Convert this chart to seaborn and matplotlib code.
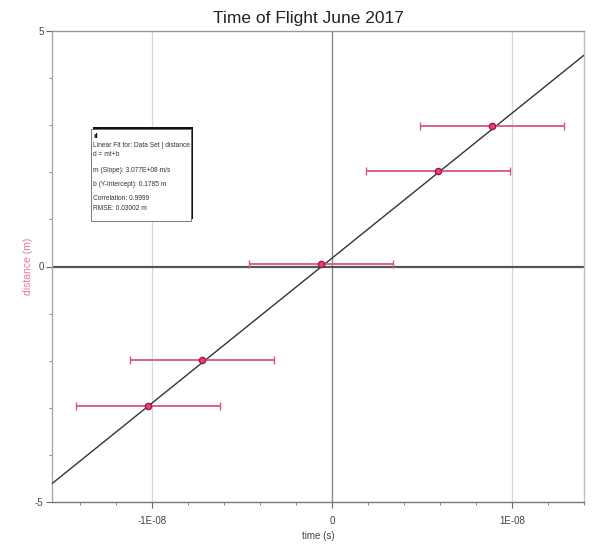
import numpy as np
import pandas as pd
import matplotlib
matplotlib.use("Agg")
import matplotlib.pyplot as plt
import seaborn as sns
from matplotlib.ticker import MultipleLocator, FixedLocator, FixedFormatter
from matplotlib.patches import Rectangle

# ---- data ----
time_s = [-1.022e-8, -0.722e-8, -0.06e-8, 0.589e-8, 0.889e-8]
distance_m = [-2.96, -1.98, 0.05, 2.02, 2.98]
time_err = [0.40e-8, 0.40e-8, 0.40e-8, 0.40e-8, 0.40e-8]
fit_slope = 3.077e8
fit_intercept = 0.1785
x_ticks = [-1e-8, 0.0, 1e-8]
x_tick_labels = ["-1E-08", "0", "1E-08"]
y_ticks = [-5, 0, 5]
y_tick_labels = ["-5", "0", "5"]
legend_lines = [
    "Linear Fit for: Data Set | distance",
    "d = mt+b",
    "m (Slope): 3.077E+08 m/s",
    "b (Y-Intercept): 0.1785 m",
    "Correlation: 0.9999",
    "RMSE: 0.03002 m",
]
title = "Time of Flight June 2017"
xlabel = "time (s)"
ylabel = "distance (m)"

sns.set_theme(style="white")
plt.rcParams["font.family"] = ["Liberation Sans Narrow", "Liberation Sans", "DejaVu Sans"]

W, H = 602, 546
fig = plt.figure(figsize=(W / 100, H / 100), dpi=100)
ax = fig.add_axes([52 / W, (H - 502) / H, (584 - 52) / W, (502 - 31) / H])

xmin, xmax = -1.556e-8, 1.40e-8
ax.set_xlim(xmin, xmax)
ax.set_ylim(-5, 5)

# grid lines at major ticks
for xv in x_ticks:
    if xv != 0:
        ax.axvline(xv, color="#d8d8d8", lw=0.9, zorder=0)
ax.axvline(0, color="#8a8a8a", lw=1.0, zorder=1)
ax.axhline(0, color="#555555", lw=1.6, zorder=1)

# fit line
fx = np.array([xmin, xmax])
fit_df = pd.DataFrame({"t": fx, "d": fit_slope * fx + fit_intercept})
sns.lineplot(data=fit_df, x="t", y="d", ax=ax, color="#333333", lw=1.0, zorder=3)

# error bars
ax.errorbar(time_s, distance_m, xerr=time_err, fmt="none", ecolor="#d9577e",
            elinewidth=1.3, capsize=3, capthick=1.0, zorder=4)
df = pd.DataFrame({"t": time_s, "d": distance_m})
sns.scatterplot(data=df, x="t", y="d", ax=ax, s=20, color="#d94a74",
                edgecolor="#b01040", linewidth=1.0, zorder=5)

# ticks
ax.xaxis.set_major_locator(FixedLocator(x_ticks))
ax.xaxis.set_major_formatter(FixedFormatter(x_tick_labels))
ax.xaxis.set_minor_locator(MultipleLocator(0.2e-8))
ax.yaxis.set_major_locator(FixedLocator(y_ticks))
ax.yaxis.set_major_formatter(FixedFormatter(y_tick_labels))
ax.yaxis.set_minor_locator(MultipleLocator(1))
ax.tick_params(axis="both", which="major", direction="out", length=4, width=0.8,
               color="#666666", labelsize=7, labelcolor="#444444", pad=2,
               bottom=True, left=True)
ax.tick_params(axis="both", which="minor", direction="out", length=2.5, width=0.7,
               color="#888888", bottom=True, left=True)
ax.tick_params(axis="x", which="major", pad=6)

ax.spines["left"].set_color("#aaaaaa")
ax.spines["bottom"].set_color("#777777")
ax.spines["top"].set_color("#999999")
ax.spines["right"].set_color("#c0c0c0")
for s in ax.spines.values():
    s.set_linewidth(1.0)

ax.set_xlabel(xlabel, fontsize=7, color="#444444", labelpad=4)
ax.set_ylabel(ylabel, fontsize=7.5, color="#e8799b")
ax.yaxis.set_label_coords((33 - 52) / 532, 0.5)
fig.text(308 / W, 1 - 18 / H, title, ha="center", va="center", fontsize=12.5, color="#222222")

# fit info box
bx0, by0, bx1, by1 = 91, 129, 191, 221
shadow = Rectangle(((bx0 + 2) / W, 1 - (by1 - 2) / H), (bx1 - bx0) / W, (by1 - by0) / H,
                   transform=fig.transFigure, facecolor="#111111", edgecolor="none", zorder=6)
fig.patches.append(shadow)
box = Rectangle((bx0 / W, 1 - by1 / H), (bx1 - bx0) / W, (by1 - by0) / H,
                transform=fig.transFigure, facecolor="white", edgecolor="#666666",
                lw=0.6, zorder=7)
fig.patches.append(box)
fig.text((bx0 + 2) / W, 1 - 136 / H, "ıl", fontsize=6, fontweight="bold",
         color="#111111", va="center", ha="left", zorder=8)
line_y = [146, 155, 171, 185, 199, 208]
for txt, yy in zip(legend_lines, line_y):
    fig.text((bx0 + 2) / W, 1 - yy / H, txt, fontsize=4.8, color="#333333",
             va="center", ha="left", zorder=8)

fig.savefig("out.png", dpi=100)
